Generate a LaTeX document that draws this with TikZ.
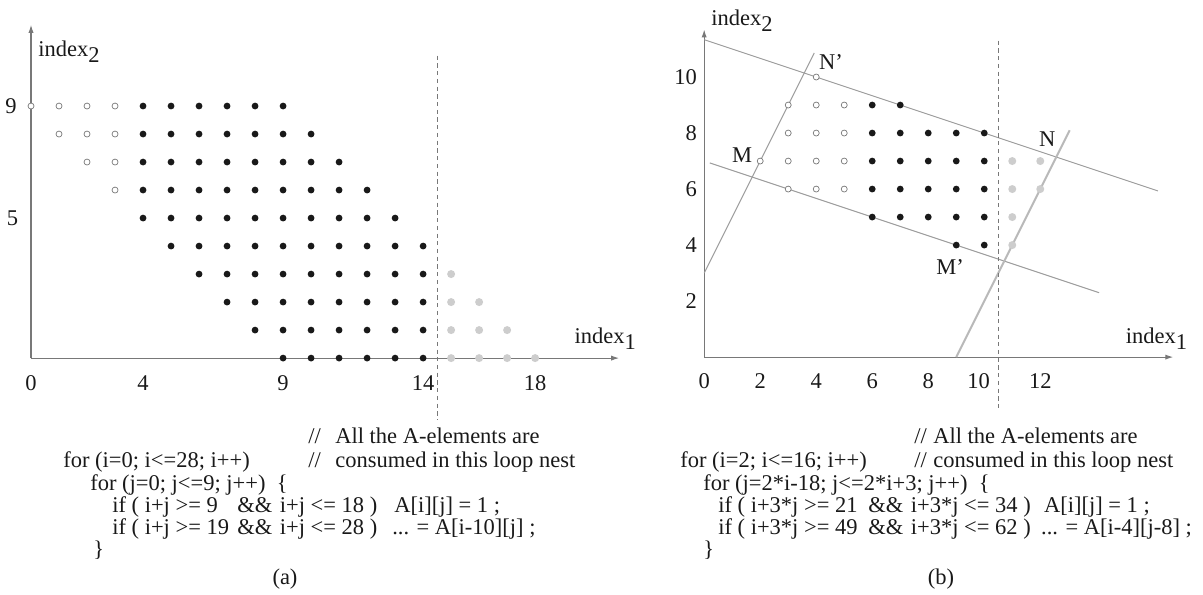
\documentclass[tikz,border=0pt]{standalone}
\usepackage{fontspec}
\setmainfont{Liberation Serif}
\usepackage{xcolor}
\usepackage{tikz}
\usetikzlibrary{positioning,arrows.meta,calc}
\definecolor{axisgray}{RGB}{120,120,120}
\definecolor{linegray}{RGB}{155,155,155}
\definecolor{fadegray}{RGB}{205,205,205}
\definecolor{fadeline}{RGB}{185,185,185}
\definecolor{inkc}{RGB}{25,25,25}
\newcommand{\idx}[1]{index\raisebox{-0.6ex}{#1}}
\tikzset{
  axis/.style={-{Latex[length=2mm,width=1.3mm]}, line width=0.8pt, axisgray},
  cut/.style={dashed, dash pattern=on 3pt off 2.5pt, line width=0.6pt, axisgray},
  bound/.style={line width=0.7pt, linegray},
  fadebound/.style={line width=1.4pt, fadeline},
  dot/.style={circle, fill=inkc, inner sep=0pt, minimum size=1.7mm},
  opendot/.style={circle, draw=axisgray, fill=white, line width=0.5pt, inner sep=0pt, minimum size=1.5mm},
  fadedot/.style={circle, fill=fadegray, inner sep=0pt, minimum size=2mm},
  tick/.style={font=\fontsize{16}{16}\selectfont, text=inkc, inner sep=1pt},
  axlbl/.style={font=\fontsize{16}{16}\selectfont, text=inkc, inner sep=0pt, anchor=west},
  lbl/.style={font=\fontsize{16}{16}\selectfont, text=inkc, inner sep=0pt},
  code/.style={font=\fontsize{16}{16}\selectfont, text=inkc, anchor=west, inner sep=0pt,
               text height=1.6ex, text depth=0.45ex},
  captxt/.style={font=\fontsize{16}{16}\selectfont, text=inkc, inner sep=0pt}
}

\begin{document}
\begin{tikzpicture}[x=0.025cm, y=-0.025cm]
\useasboundingbox (0,0) rectangle (1203,594);

% (a) left lattice
\begin{scope}[shift={(0.775cm,-8.95cm)}, x=0.7cm, y=0.7cm]
  \coordinate (oa) at (0,0);
  \coordinate (xa) at (21,0);
  \coordinate (ya) at (0,11.9);
  \draw[axis] (oa) -- (xa);
  \draw[axis] (oa) -- (ya);
  \coordinate (cuta1) at (14.5,10.8);
  \coordinate (cuta2) at (14.5,-2.2);
  \draw[cut] (cuta1) -- (cuta2);
  \foreach \i in {0,...,18} {
    \foreach \j in {0,...,9} {
      \pgfmathtruncatemacro\s{\i+\j}
      \ifnum\s<9 \else\ifnum\s>18 \else
        \ifnum\i<4 \node[opendot] (a-\i-\j) at (\i,\j) {};
        \else\ifnum\i<15 \node[dot] (a-\i-\j) at (\i,\j) {};
        \else \node[fadedot] (a-\i-\j) at (\i,\j) {};
        \fi\fi
      \fi\fi
    }
  }
  \foreach \t in {0,4,9,14,18} {
    \node[tick] (ta\t) at (\t,-0.9) {\t};
  }
  \node[tick, anchor=east] (tya9) at (-0.45,9) {9};
  \node[tick, anchor=east] (tya5) at (-0.4,5) {5};
  \node[axlbl] (ia2) at (0.25,10.95) {\idx{2}};
  \node[axlbl] (ia1) at (19.4,0.7) {\idx{1}};
\end{scope}

% (b) right lattice
\begin{scope}[shift={(17.6cm,-8.925cm)}, x=0.7cm, y=0.7cm]
  \coordinate (ob) at (0,0);
  \coordinate (xb) at (16.75,0);
  \coordinate (yb) at (0,11.7);
  \draw[axis] (ob) -- (xb);
  \draw[axis] (ob) -- (yb);
  \coordinate (hiL) at (0,11.333);
  \coordinate (hiR) at (16.2,5.933);
  \coordinate (loL) at (0.2,6.933);
  \coordinate (loR) at (14.1,2.3);
  \coordinate (lfB) at (0,3);
  \coordinate (lfT) at (3.93,10.86);
  \coordinate (rtB) at (9,0);
  \coordinate (rtT) at (13.05,8.1);
  \draw[bound] (hiL) -- (hiR);
  \draw[bound] (loL) -- (loR);
  \draw[bound] (lfB) -- (lfT);
  \draw[fadebound] (rtB) -- (rtT);
  \coordinate (cutb1) at (10.5,11.3);
  \coordinate (cutb2) at (10.5,-1.9);
  \draw[cut] (cutb1) -- (cutb2);
  \foreach \i in {2,...,16} {
    \foreach \j in {0,...,11} {
      \pgfmathtruncatemacro\s{\i+3*\j}
      \pgfmathtruncatemacro\lo{2*\i-18}
      \pgfmathtruncatemacro\hi{2*\i+3}
      \ifnum\s<21 \else\ifnum\s>34 \else\ifnum\j<\lo\relax\else\ifnum\j>\hi\relax\else
        \ifnum\i<6 \node[opendot] (b-\i-\j) at (\i,\j) {};
        \else\ifnum\i<11 \node[dot] (b-\i-\j) at (\i,\j) {};
        \else \node[fadedot] (b-\i-\j) at (\i,\j) {};
        \fi\fi
      \fi\fi\fi\fi
    }
  }
  \foreach \t in {0,2,4,6,8,12} {
    \node[tick] (tb\t) at (\t,-0.85) {\t};
  }
  \node[tick] (tb10) at (9.8,-0.85) {10};
  \foreach \t in {2,4,6,8,10} {
    \node[tick, anchor=east] (tyb\t) at (-0.2,\t) {\t};
  }
  \node[axlbl] (ib2) at (0.25,12.0) {\idx{2}};
  \node[axlbl] (ib1) at (15.05,0.65) {\idx{1}};
  \coordinate (nx) at (12.57,7.14);
  \node[lbl] (M) at ([shift={(-12.8pt,4.3pt)}]b-2-7.center) {M};
  \node[lbl] (Np) at ([shift={(10.5pt,10.6pt)}]b-4-10.center) {N'};
  \node[lbl] (Mp) at ([shift={(-4.3pt,-15.6pt)}]b-9-4.center) {M'};
  \node[lbl] (N) at ([shift={(-6.4pt,12.8pt)}]nx) {N};
\end{scope}

% loop nest (a)
\node[code] (ca1c) at (308,440) {//};
\node[code] (ca1t) at (335,440) {All the A-elements are};
\node[code] (ca2) at (63,464) {for (i=0; i<=28; i++)};
\node[code] (ca2c) at (308,464) {//};
\node[code] (ca2t) at (335,464) {consumed in this loop nest};
\node[code] (ca3) at (90,487) {for (j=0; j<=9; j++)\ \ \{};
\node[code] (ca4) at (112,509) {if ( i+j >= 9};
\node[code] (ca4a) at (237,509) {\&\&};
\node[code, right=5pt of ca4a] (ca4b) {i+j <= 18 )};
\node[code] (ca4c) at (394,509) {A[i][j] = 1 ;};
\node[code] (ca5) at (112,531) {if ( i+j >= 19};
\node[code] (ca5a) at (237,531) {\&\&};
\node[code, right=5pt of ca5a] (ca5b) {i+j <= 28 )};
\node[code] (ca5c) at (392,531) {... = A[i-10][j] ;};
\node[code] (ca6) at (93,553) {\}};
\node[captxt] (capa) at (285,579) {(a)};

% loop nest (b)
\node[code] (cb1c) at (914,440) {//};
\node[code] (cb1t) at (933,440) {All the A-elements are};
\node[code] (cb2) at (680,464) {for (i=2; i<=16; i++)};
\node[code] (cb2c) at (914,464) {//};
\node[code] (cb2t) at (933,464) {consumed in this loop nest};
\node[code] (cb3) at (703,487) {for (j=2*i-18; j<=2*i+3; j++)\ \ \{};
\node[code] (cb4) at (718,509) {if ( i+3*j >= 21};
\node[code] (cb4a) at (868,509) {\&\&};
\node[code, right=5pt of cb4a] (cb4b) {i+3*j <= 34 )};
\node[code, right=9pt of cb4b] (cb4c) {A[i][j] = 1 ;};
\node[code] (cb5) at (718,531) {if ( i+3*j >= 49};
\node[code] (cb5a) at (868,531) {\&\&};
\node[code, right=5pt of cb5a] (cb5b) {i+3*j <= 62 )};
\node[code, right=7pt of cb5b] (cb5c) {... = A[i-4][j-8] ;};
\node[code] (cb6) at (703,553) {\}};
\node[captxt] (capb) at (941,579) {(b)};
\end{tikzpicture}
\end{document}
